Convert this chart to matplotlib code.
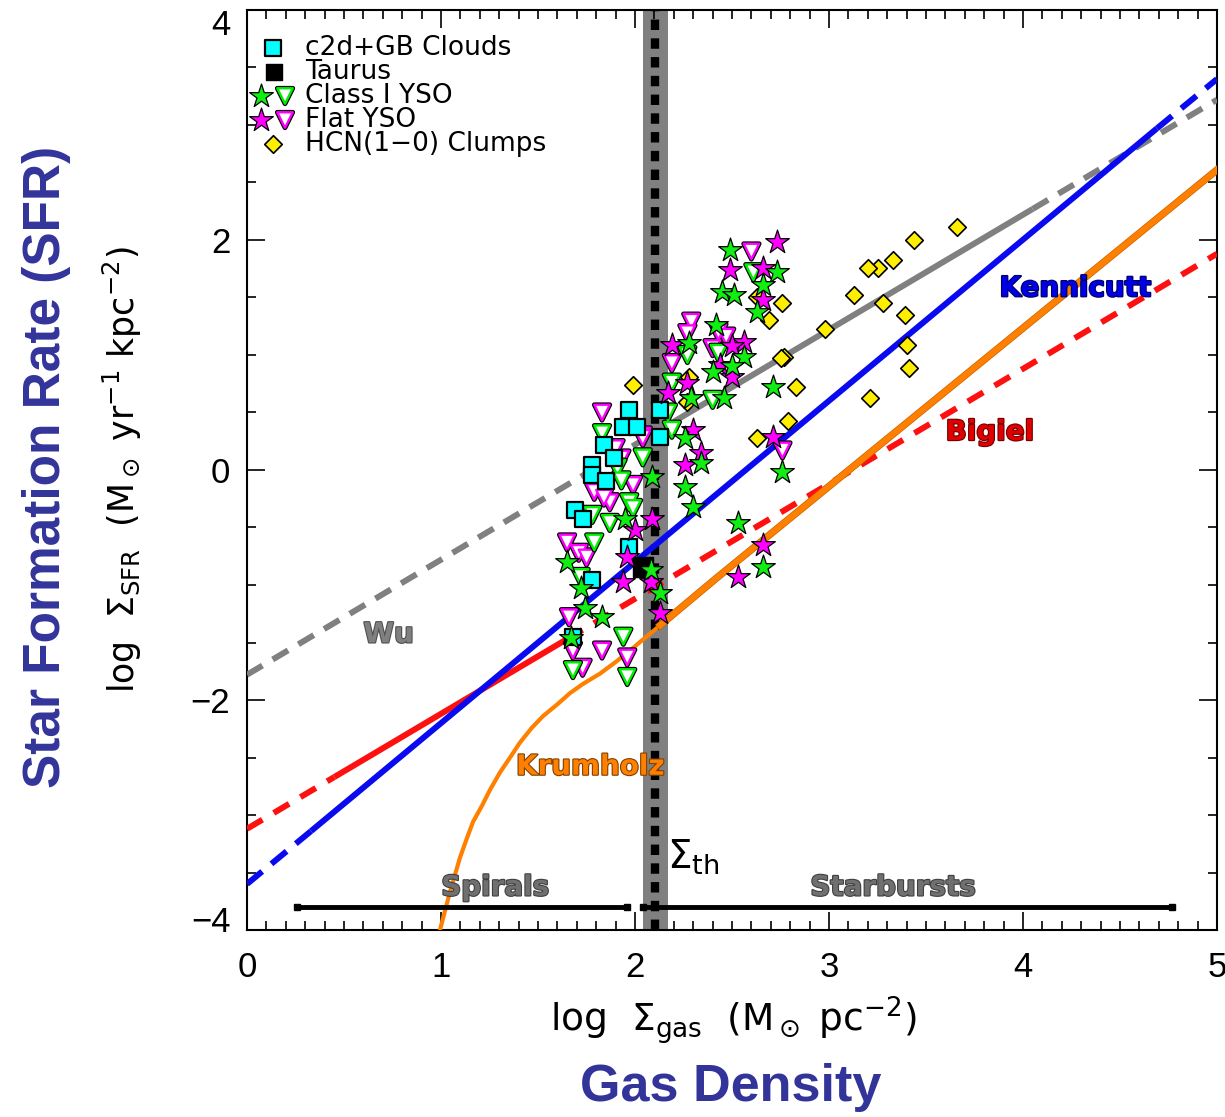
import matplotlib
matplotlib.use('Agg')
import matplotlib.pyplot as plt
import matplotlib.patheffects as pe
from matplotlib.ticker import MultipleLocator
from matplotlib.transforms import ScaledTranslation

# --- observed points (log Sigma_gas, log Sigma_SFR) ---
c2d_x = [1.97, 1.94, 2.01, 2.13, 2.13, 1.84, 1.78, 1.78, 1.85, 1.89, 1.69, 1.73, 1.97, 1.78, 1.68]
c2d_y = [0.52, 0.37, 0.37, 0.52, 0.29, 0.22, 0.04, -0.04, -0.10, 0.10, -0.35, -0.43, -0.67, -0.96, -1.45]

taurus_x = [2.04]
taurus_y = [-0.84]

cls1_star_x = [2.09, 1.95, 1.65, 2.08, 1.72, 2.13, 1.74, 1.83, 1.67, 2.49, 2.73, 2.66, 2.45, 2.51, 2.63,
               2.42, 2.28, 2.56, 2.50, 2.40, 2.29, 2.46, 2.26, 2.34, 2.26, 2.30, 2.71, 2.76, 2.53, 2.66]
cls1_star_y = [-0.06, -0.43, -0.80, -0.87, -1.03, -1.07, -1.20, -1.28, -1.46, 1.91, 1.72, 1.61, 1.55, 1.52, 1.37,
               1.26, 1.10, 0.98, 0.90, 0.85, 0.63, 0.63, 0.28, 0.06, -0.15, -0.32, 0.72, -0.02, -0.46, -0.84]

flat_star_x = [2.09, 2.00, 1.96, 2.08, 1.94, 2.13, 2.73, 2.49, 2.66, 2.66, 2.19, 2.56, 2.50, 2.44, 2.50,
               2.27, 2.17, 2.30, 2.34, 2.26, 2.71, 2.66, 2.53]
flat_star_y = [-0.43, -0.52, -0.76, -0.97, -0.97, -1.24, 1.98, 1.74, 1.76, 1.48, 1.09, 1.11, 1.08, 0.91, 0.81,
               0.76, 0.67, 0.35, 0.15, 0.04, 0.29, -0.65, -0.93]

cls1_tri_x = [1.83, 2.04, 1.91, 1.93, 1.97, 1.99, 1.78, 1.87, 1.79, 1.72, 1.94, 1.68, 1.96, 2.61, 2.27,
              2.43, 2.19, 2.40, 2.17, 2.19]
cls1_tri_y = [0.32, 0.11, 0.02, -0.09, -0.28, -0.33, -0.39, -0.46, -0.63, -0.93, -1.45, -1.74, -1.80, 1.72, 1.00,
              1.02, 0.76, 0.61, 0.50, 0.35]

flat_tri_x = [1.83, 2.04, 1.90, 1.93, 1.99, 1.79, 1.87, 1.84, 1.65, 1.71, 1.75, 1.66, 1.68, 1.83, 1.96,
              1.73, 2.60, 2.29, 2.27, 2.43, 2.47, 2.40, 2.19, 2.76, 2.04]
flat_tri_y = [0.50, 0.30, 0.19, 0.10, -0.13, -0.19, -0.28, -0.24, -0.63, -0.72, -0.76, -1.28, -1.57, -1.57, -1.63,
              -1.72, 1.90, 1.29, 1.19, 1.20, 1.16, 1.06, 0.93, 0.17, 0.28]

hcn_x = [1.99, 2.28, 2.27, 2.63, 2.76, 2.69, 2.77, 2.75, 2.83, 2.79, 2.63, 3.66, 3.44, 3.33, 3.25,
         3.20, 3.13, 3.28, 3.39, 2.98, 3.40, 3.41, 3.21]
hcn_y = [0.74, 0.81, 0.59, 1.50, 1.45, 1.30, 0.98, 0.97, 0.72, 0.43, 0.28, 2.11, 2.00, 1.83, 1.76,
         1.76, 1.52, 1.45, 1.35, 1.23, 1.09, 0.89, 0.63]

# --- relations: (start, solid-from, solid-to, end) ---
kenn_x = [0.0, 0.33, 4.69, 5.0]
kenn_y = [-3.60, -3.14, 2.97, 3.40]
wu_x = [0.0, 2.20, 4.05, 5.0]
wu_y = [-1.78, 0.42, 2.27, 3.22]
bigiel_x = [0.0, 0.45, 1.65, 5.0]
bigiel_y = [-3.12, -2.67, -1.47, 1.88]

krum_x = [0.97, 0.995, 1.021, 1.046, 1.072, 1.098, 1.134, 1.165, 1.211, 1.253, 1.304, 1.356, 1.407, 1.469,
          1.526, 1.598, 1.665, 1.732, 1.820, 1.900, 1.960, 2.030, 2.130, 2.250, 2.420, 5.0]
krum_y = [-4.2, -4.0, -3.83, -3.67, -3.52, -3.37, -3.20, -3.06, -2.92, -2.78, -2.63, -2.50, -2.37, -2.24,
          -2.14, -2.04, -1.94, -1.86, -1.77, -1.67, -1.59, -1.49, -1.35, -1.18, -0.94, 2.61]

sigma_th = 2.105
spirals = [0.26, 1.96]
starbursts = [2.04, 4.77]
range_y = -3.80

NAVY = '#32349a'
tick_font = 'Liberation Sans'
label_font = 'DejaVu Sans'

fig = plt.figure(figsize=(12.25, 11.17), dpi=100)
ax = fig.add_axes([247 / 1225, 187 / 1117, 970 / 1225, 920 / 1117])
ax.set_xlim(0, 5)
ax.set_ylim(-4, 4)

# threshold band
ax.axvspan(sigma_th - 0.065, sigma_th + 0.065, color='#808080', lw=0, zorder=1)
ax.plot([sigma_th, sigma_th], [-4, 4], color='black', lw=6, ls=(0, (1.25, 1.0)), zorder=2)


def split_line(xs, ys, color, dash, lw=4.3):
    ax.plot(xs[:2], ys[:2], color=color, lw=lw, ls=(0, dash), zorder=3)
    ax.plot(xs[1:3], ys[1:3], color=color, lw=lw, solid_capstyle='butt', zorder=3)
    ax.plot(xs[2:], ys[2:], color=color, lw=lw, ls=(0, dash), zorder=3)


split_line(wu_x, wu_y, '#808080', (3.0, 2.0))
split_line(bigiel_x, bigiel_y, '#ff1010', (3.0, 2.2))
split_line(kenn_x, kenn_y, '#0a0af0', (3.3, 2.0))

k_split = 22
ax.plot(krum_x[:k_split + 1], krum_y[:k_split + 1], color='#ff8000', lw=3.0, zorder=3,
        solid_joinstyle='round')
ax.plot(krum_x[k_split:], krum_y[k_split:], color='#ff8000', lw=4.3, zorder=3, solid_joinstyle='round',
        path_effects=[pe.Stroke(linewidth=5.3, foreground='#c86400'), pe.Normal()])

# regime ranges
for rng in (spirals, starbursts):
    ax.plot(rng, [range_y, range_y], color='black', lw=3.5, marker='s', ms=5, zorder=3)

tri_edge = [pe.Stroke(linewidth=3.4, foreground='black'), pe.Normal()]
ax.scatter(flat_tri_x, flat_tri_y, marker='v', s=125, facecolor='white', edgecolor='#ff00ff', lw=1.7,
           zorder=5, path_effects=tri_edge)
ax.scatter(cls1_tri_x, cls1_tri_y, marker='v', s=125, facecolor='white', edgecolor='#00ee00', lw=1.7,
           zorder=5, path_effects=tri_edge)
ax.scatter(c2d_x, c2d_y, marker='s', s=140, facecolor='#00ffff', edgecolor='black', lw=1.6, zorder=5)
ax.scatter(hcn_x, hcn_y, marker='D', s=80, facecolor='#ffee00', edgecolor='black', lw=1.2, zorder=5)
ax.scatter(taurus_x, taurus_y, marker='s', s=200, facecolor='black', edgecolor='black', zorder=5.5)
ax.scatter(flat_star_x, flat_star_y, marker='*', s=320, facecolor='#ff00ff', edgecolor='black', lw=0.9, zorder=6)
ax.scatter(cls1_star_x, cls1_star_y, marker='*', s=320, facecolor='#11ee11', edgecolor='black', lw=0.9, zorder=6)

# legend drawn in axes fraction, rows 24 px apart
leg_rows = [0.9587, 0.9326, 0.9065, 0.8804, 0.8543]
leg_labels = ['c2d+GB Clouds', 'Taurus', 'Class I YSO', 'Flat YSO', 'HCN(1\u22120) Clumps']
tr = ax.transAxes
ax.scatter([0.0268], [leg_rows[0]], transform=tr, marker='s', s=130, facecolor='#00ffff', edgecolor='black', lw=1.6, zorder=7)
ax.scatter([0.0280], [leg_rows[1]], transform=tr, marker='s', s=140, facecolor='black', zorder=7)
ax.scatter([0.0144], [leg_rows[2]], transform=tr, marker='*', s=320, facecolor='#11ee11', edgecolor='black', lw=0.9, zorder=8)
ax.scatter([0.0392], [leg_rows[2]], transform=tr, marker='v', s=125, facecolor='white', edgecolor='#00ee00', lw=1.7, zorder=7, path_effects=tri_edge)
ax.scatter([0.0144], [leg_rows[3]], transform=tr, marker='*', s=320, facecolor='#ff00ff', edgecolor='black', lw=0.9, zorder=8)
ax.scatter([0.0392], [leg_rows[3]], transform=tr, marker='v', s=125, facecolor='white', edgecolor='#ff00ff', lw=1.7, zorder=7, path_effects=tri_edge)
ax.scatter([0.0268], [leg_rows[4]], transform=tr, marker='D', s=80, facecolor='#ffee00', edgecolor='black', lw=1.2, zorder=7)
for yy, lab in zip(leg_rows, leg_labels):
    ax.text(0.0598, yy, lab, transform=tr, fontsize=19, family='DejaVu Sans', va='center', ha='left', zorder=7)


def tag(x, y, s, color, edge):
    ax.text(x, y, s, color=color, fontsize=20, fontweight='bold', family='DejaVu Sans', ha='center', va='center',
            zorder=7, path_effects=[pe.withStroke(linewidth=1.6, foreground=edge)])


tag(0.73, -1.43, 'Wu', '#808080', '#505050')
tag(4.27, 1.58, 'Kennicutt', '#0000e6', '#000060')
tag(3.83, 0.33, 'Bigiel', '#e00000', '#700000')
tag(1.77, -2.58, 'Krumholz', '#ff8000', '#804000')
tag(1.28, -3.63, 'Spirals', '#707070', '#404040')
tag(3.33, -3.63, 'Starbursts', '#707070', '#404040')
ax.text(2.30, -3.37, r'$\Sigma_{\rm th}$', fontsize=28, ha='center', va='center', zorder=7)

# axes styling
ax.xaxis.set_major_locator(MultipleLocator(1))
ax.xaxis.set_minor_locator(MultipleLocator(0.1))
ax.yaxis.set_major_locator(MultipleLocator(2))
ax.yaxis.set_minor_locator(MultipleLocator(0.5))
ax.tick_params(which='both', direction='in', top=True, right=True, width=1.2)
ax.tick_params(which='major', length=13, labelsize=25)
ax.tick_params(which='minor', length=6.5)
ax.tick_params(axis='x', which='major', pad=15)
ax.tick_params(axis='y', which='major', pad=12)
for lab in ax.get_xticklabels() + ax.get_yticklabels():
    lab.set_family(tick_font)
for sp in ax.spines.values():
    sp.set_linewidth(1.5)

# keep the end labels of the y axis inside the frame height
for tk in ax.yaxis.get_major_ticks():
    tv = tk.get_loc()
    if tv >= 3.9:
        tk.label1.set_transform(tk.label1.get_transform() + ScaledTranslation(0, -9 / 72, fig.dpi_scale_trans))
    elif tv <= -3.9:
        tk.label1.set_transform(tk.label1.get_transform() + ScaledTranslation(0, 8 / 72, fig.dpi_scale_trans))

ax.set_xlabel(r'log  $\Sigma_{\rm gas}$  (M$_\odot$ pc$^{-2}$)', fontsize=27, family=label_font, va='center')
ax.xaxis.set_label_coords(0.502, -0.098)
ax.set_ylabel(r'log  $\Sigma_{\rm SFR}$  (M$_\odot$ yr$^{-1}$ kpc$^{-2}$)', fontsize=25, family=label_font,
              va='center')
ax.yaxis.set_label_coords(-0.128, 0.50)

fig.text(47 / 1225, 1 - 467 / 1117, 'Star Formation Rate (SFR)', rotation=90, fontsize=37, fontweight='bold',
         family='Liberation Sans', color=NAVY, ha='center', va='center')
fig.text(731 / 1225, 1 - 1088 / 1117, 'Gas Density', fontsize=37.5, fontweight='bold',
         family='Liberation Sans', color=NAVY, ha='center', va='center')

fig.savefig('out.png', dpi=100)
